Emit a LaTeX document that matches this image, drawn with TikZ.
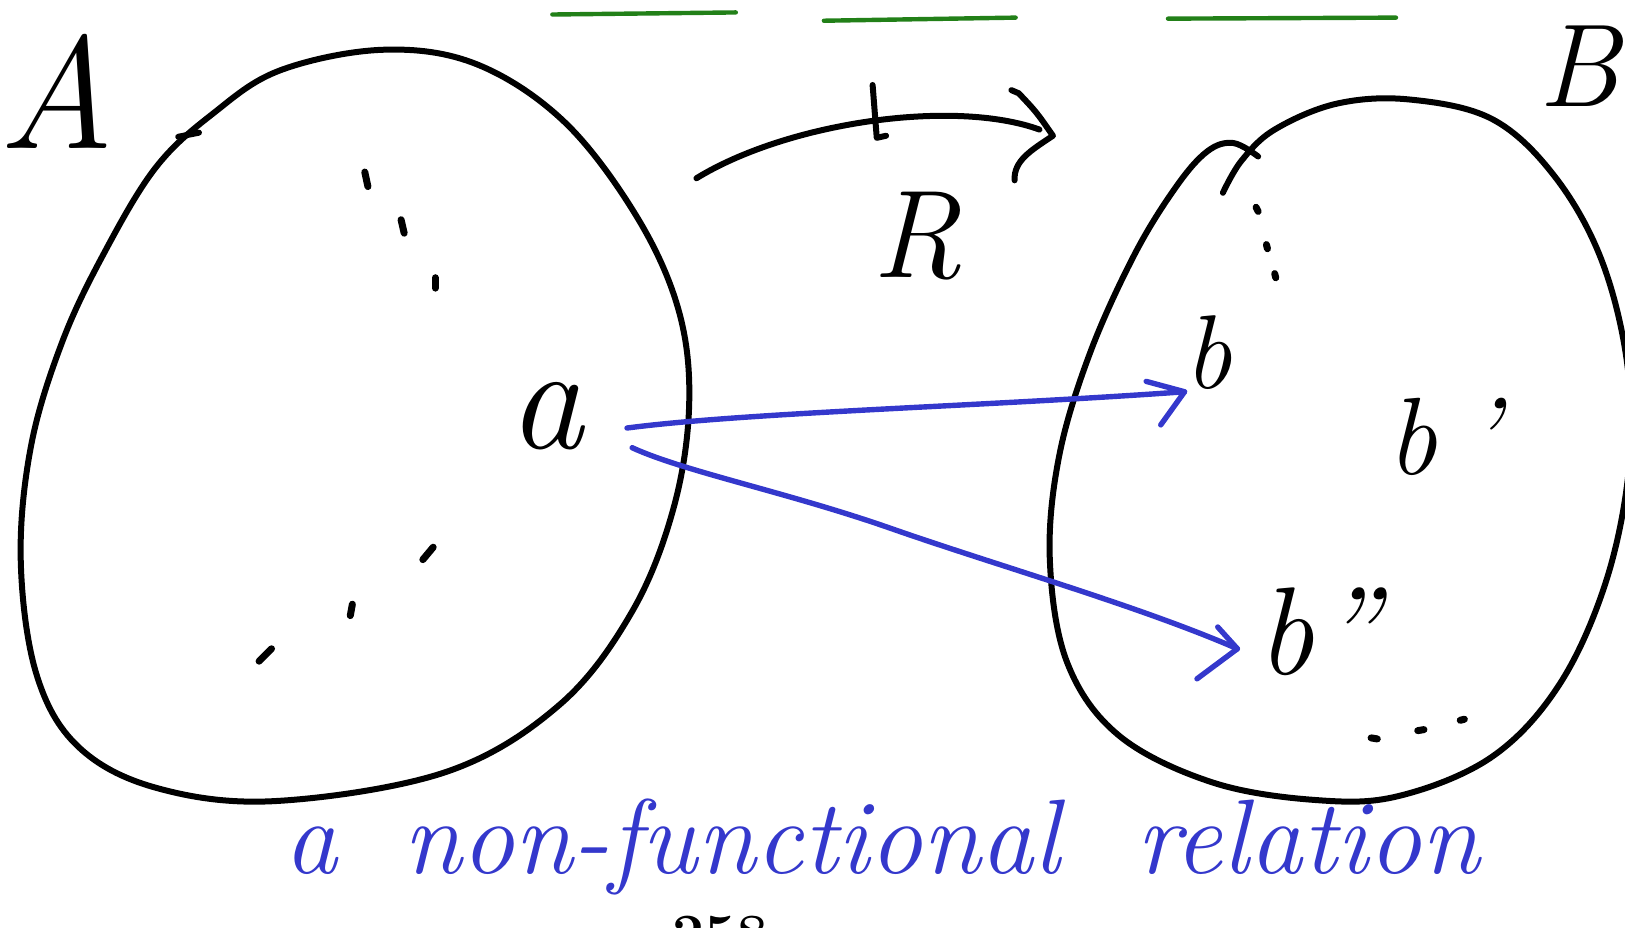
\documentclass[tikz,border=0pt]{standalone}
\definecolor{handblue}{RGB}{52,56,204}
\definecolor{handgreen}{RGB}{34,128,24}
\tikzset{
  ink/.style={line width=6pt, line cap=round, line join=round, black},
  dotmark/.style={line width=7pt, line cap=round, black},
  bluepen/.style={line width=5.4pt, line cap=round, line join=round, handblue},
  greenpen/.style={line width=4.4pt, line cap=round, handgreen},
  lbl/.style={inner sep=0pt, font=\itshape},
}
\begin{document}
\begin{tikzpicture}[x=1.0364pt,y=-1.0364pt]
\useasboundingbox (0,0) rectangle (1568,895);
% green lines at top
\draw[greenpen] (533,14) -- (710,12);
\draw[greenpen] (795,20) -- (980,17);
\draw[greenpen] (1127,18) -- (1347,17);
% set A outline
\draw[ink] plot[smooth cycle, tension=0.6] coordinates {
  (150,162) (205,110) (270,68) (370,48) (460,62) (545,118) (615,210)
  (655,300) (665,390) (650,490) (610,590) (540,680) (430,745) (265,773)
  (150,760) (75,720) (35,650) (20,540) (30,430) (60,330) (100,245)};
\draw[ink] (172,132) -- (192,128);
% set B outline
\draw[ink] plot[smooth, tension=0.6] coordinates {
  (1180,186) (1198,155) (1230,125) (1290,100) (1360,96) (1440,115) (1500,170)
  (1545,250) (1570,350) (1572,450) (1550,560) (1505,660) (1440,730)
  (1350,768) (1270,772) (1170,755) (1080,710) (1030,640) (1013,540)
  (1022,440) (1052,340) (1095,245) (1135,180) (1165,146) (1190,138) (1214,151)};
% labels
\node[lbl, font=\fontsize{160}{160}\selectfont\itshape] (A) at (55,88) {A};
\node[lbl, font=\fontsize{118}{118}\selectfont\itshape] (B) at (1524,64) {B};
\node[lbl, font=\fontsize{125}{125}\selectfont\itshape] (R) at (885,228) {R};
\node[lbl, font=\fontsize{150}{150}\selectfont\itshape] (a) at (527,402) {a};
\node[lbl, font=\fontsize{105}{105}\selectfont\itshape] (b) at (1166,340) {b};
\node[lbl, font=\fontsize{110}{110}\selectfont\itshape] (b1) at (1393,422) {b\hspace{30pt}'};
\node[lbl, font=\fontsize{125}{125}\selectfont\itshape] (b2) at (1272,610) {b\hspace{6pt}''};
% relation arc R with tick and arrowhead
\coordinate (rs) at (672,172);
\coordinate (re) at (1003,125);
\draw[ink] (rs) .. controls (760,118) and (920,95) .. (re);
\draw[ink] (842,82) -- (846,133) -- (855,131);
\coordinate (h1) at (976,87);
\coordinate (h2) at (1016,131);
\coordinate (h3) at (979,174);
\draw[ink] (h1) -- (983,90) .. controls (1000,108) .. (h2) .. controls (995,145) and (978,155) .. (h3);
% dots in A
\draw[dotmark] (352,166) -- (355,180);
\draw[dotmark] (387,212) -- (390,225);
\draw[dotmark] (420,268) -- (420,278);
\draw[dotmark] (418,528) -- (408,540);
\draw[dotmark] (340,583) -- (338,594);
\draw[dotmark] (262,626) -- (250,638);
% dots in B
\draw[dotmark] (1212,200) -- (1214,204);
\draw[dotmark] (1222,236) -- (1223,240);
\draw[dotmark] (1230,264) -- (1231,268);
\draw[dotmark] (1323,712) -- (1329,713);
\draw[dotmark] (1368,705) -- (1374,704);
\draw[dotmark] (1409,695) -- (1413,694);
% blue arrows
\coordinate (s1) at (605,413);
\coordinate (s2) at (610,432);
\coordinate (t1) at (1143,378);
\coordinate (t2) at (1194,626);
\draw[bluepen] (s1) .. controls (720,398) and (950,392) .. (t1);
\draw[bluepen] (1106,368) -- (t1) -- (1120,410);
\draw[bluepen] (s2) .. controls (660,455) and (760,475) .. (860,510)
   .. controls (960,545) and (1100,585) .. (t2);
\draw[bluepen] (1175,605) -- (t2) -- (1155,655);
% caption
\node[inner sep=0pt, anchor=base west, text=handblue,
  font=\fontsize{106}{106}\selectfont\itshape] (cap) at (274,843)
  {a\hspace{66pt}non-functional\hspace{76pt}relation};
% page number, cut off
\node[inner sep=0pt, anchor=base west, font=\fontsize{57}{57}\selectfont\bfseries] (pg) at (649,920) {258};
\end{tikzpicture}
\end{document}
